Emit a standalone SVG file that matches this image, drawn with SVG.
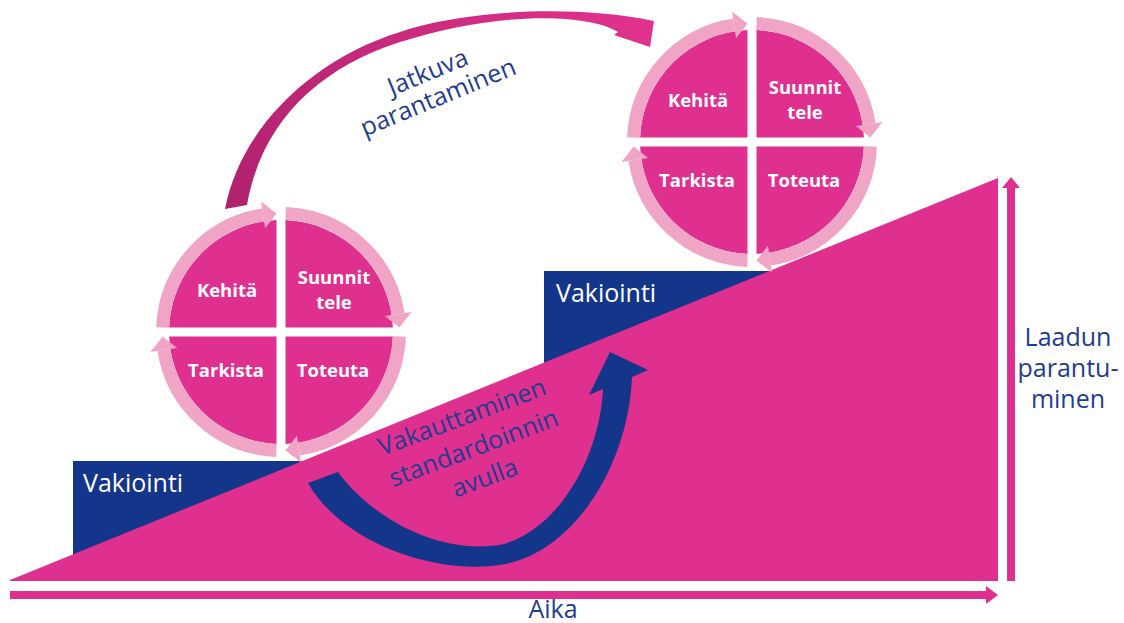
<svg xmlns="http://www.w3.org/2000/svg" width="1124" height="623" viewBox="0 0 1124 623">
<defs>
<style>
.pink{fill:#e0308f}
.navy{fill:#13358a}
.ring{fill:none;stroke:#f0a5c7;stroke-width:13}
.head{fill:#f0a5c7}
.q{font-family:"Open Sans","Liberation Sans",Arial,sans-serif;font-weight:700;font-size:18.5px;fill:#ffffff;text-anchor:middle}
.bt{font-family:"Open Sans","Liberation Sans",Arial,sans-serif;font-size:25px;fill:#1f3d8f}
.wt{font-family:"Open Sans","Liberation Sans",Arial,sans-serif;font-size:25px;fill:#ffffff}
</style>
<linearGradient id="jg" gradientUnits="userSpaceOnUse" x1="225" y1="208" x2="655" y2="20">
<stop offset="0" stop-color="#b0226d"/>
<stop offset="1" stop-color="#e3328f"/>
</linearGradient>
<g id="quad">
<path class="pink" d="M-4.5,-4.5 L-4.5,-111.9 A112,112 0 0 0 -111.9,-4.5 Z"/>
<path class="ring" d="M-118.4,-4.6 A118.5,118.5 0 0 1 -17.9,-117.1"/>
<polygon class="head" points="-15.9,-103.8 -20,-130.5 -4.5,-118.4"/>
</g>
</defs>
<rect width="1124" height="623" fill="#ffffff"/>

<g id="vakiointi-left">
<rect class="navy" x="73" y="461" width="235" height="100"/>
<text class="wt" x="83" y="492">Vakiointi</text>
</g>
<g id="vakiointi-right">
<rect class="navy" x="544" y="271" width="235" height="100"/>
<text class="wt" x="556" y="302">Vakiointi</text>
</g>

<g id="quality-ramp">
<polygon class="pink" points="10,580 998,178 998,581 10,581"/>
</g>

<g id="connectors">
<path id="stabilize-arrow" class="navy" d="M308,483 C340,540 430,575 500,565 C570,555 628,470 632,377 L648,370 L610,352 L589,395 L603,389 C600,455 560,530 500,545 C430,555 365,510 338,472 Z"/>
<path id="improve-arrow" fill="url(#jg)" d="M225,209 C240,130 310,60 400,32 C450,14 560,2 654,21 L650,47 L614,35 L618,32 C590,14 500,10 400,42 C320,68 262,120 247,205 Z"/>
<g id="time-axis" class="pink">
<rect x="10" y="591" width="978" height="8"/>
<polygon points="986,586 998,595 986,604"/>
</g>
<g id="quality-axis" class="pink">
<rect x="1007" y="186" width="8" height="395"/>
<polygon points="1002,188 1011,177 1020,188"/>
</g>
</g>

<g id="label-stabilize">
<text class="bt" transform="translate(465,425) rotate(-20.5)" text-anchor="middle"><tspan x="0" y="0">Vakauttaminen</tspan><tspan x="0" y="33">standardoinnin</tspan><tspan x="0" y="65">avulla</tspan></text>
</g>
<g id="label-improve">
<text class="bt" transform="translate(431,80) rotate(-22.5)" text-anchor="middle"><tspan x="0" y="0">Jatkuva</tspan><tspan x="0" y="27">parantaminen</tspan></text>
</g>
<g id="label-quality">
<text class="bt" text-anchor="middle"><tspan x="1068" y="346">Laadun</tspan><tspan x="1068" y="377">parantu-</tspan><tspan x="1068" y="408">minen</tspan></text>
</g>
<g id="label-time">
<text class="bt" x="553" y="618" text-anchor="middle">Aika</text>
</g>

<g id="cycle-left" transform="translate(281,332)">
<use href="#quad"/>
<use href="#quad" transform="rotate(90)"/>
<use href="#quad" transform="rotate(180)"/>
<use href="#quad" transform="rotate(270)"/>
<text class="q" x="-54" y="-35">Kehitä</text>
<text class="q" x="53" y="-48">Suunnit</text>
<text class="q" x="53" y="-23">tele</text>
<text class="q" x="-55" y="45">Tarkista</text>
<text class="q" x="52" y="45">Toteuta</text>
</g>

<g id="cycle-right" transform="translate(752,142)">
<use href="#quad"/>
<use href="#quad" transform="rotate(90)"/>
<use href="#quad" transform="rotate(180)"/>
<use href="#quad" transform="rotate(270)"/>
<text class="q" x="-54" y="-35">Kehitä</text>
<text class="q" x="53" y="-48">Suunnit</text>
<text class="q" x="53" y="-23">tele</text>
<text class="q" x="-55" y="45">Tarkista</text>
<text class="q" x="52" y="45">Toteuta</text>
</g>
</svg>
